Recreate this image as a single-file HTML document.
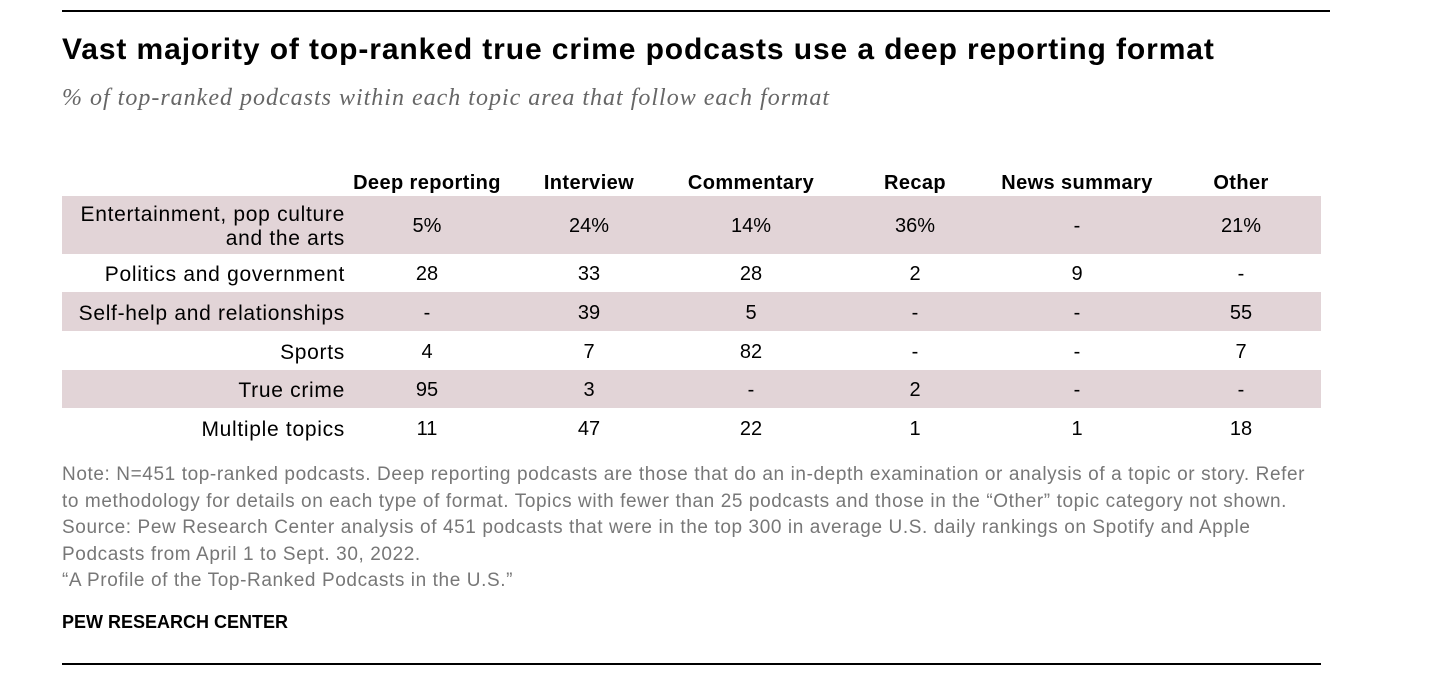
<!DOCTYPE html>
<html><head><meta charset="utf-8"><style>
body{margin:0;width:1448px;height:674px;background:#fff;font-family:"Liberation Sans",Arial,sans-serif;position:relative;overflow:hidden}
.rule{position:absolute;left:62px;height:2px;background:#000}
.title{position:absolute;left:62px;top:33px;font-size:30px;font-weight:bold;color:#000;letter-spacing:0.9px;white-space:nowrap}
.sub{position:absolute;left:62px;top:85px;font-family:"Liberation Serif",serif;font-style:italic;font-size:24px;color:#666;letter-spacing:1px;white-space:nowrap}
.hdr{position:absolute;top:172px;font-size:20px;font-weight:bold;transform:translateX(-50%);white-space:nowrap;letter-spacing:0.4px}
.row{position:absolute;left:62px;width:1259px}
.shade{background:#e2d4d7}
.lab{position:absolute;right:1103px;text-align:right;font-size:21px;line-height:24px;white-space:nowrap;color:#000;letter-spacing:0.7px}
.cell{position:absolute;font-size:20px;transform:translateX(-50%);color:#000}
.note{position:absolute;left:62px;top:462px;font-size:19px;line-height:26.5px;color:#777;letter-spacing:0.6px;white-space:nowrap}
.pew{position:absolute;left:62px;top:612px;font-size:18px;font-weight:bold;color:#000}
</style></head><body>
<div class="rule" style="top:10px;width:1268px"></div>
<div class="title">Vast majority of top-ranked true crime podcasts use a deep reporting format</div>
<div class="sub">% of top-ranked podcasts within each topic area that follow each format</div>
<div id="tbl"></div>
<div class="note">Note: N=451 top-ranked podcasts. Deep reporting podcasts are those that do an in-depth examination or analysis of a topic or story. Refer<br>to methodology for details on each type of format. Topics with fewer than 25 podcasts and those in the “Other” topic category not shown.<br>Source: Pew Research Center analysis of 451 podcasts that were in the top 300 in average U.S. daily rankings on Spotify and Apple<br>Podcasts from April 1 to Sept. 30, 2022.<br>“A Profile of the Top-Ranked Podcasts in the U.S.”</div>
<div class="pew">PEW RESEARCH CENTER</div>
<div class="rule" style="top:663px;width:1259px"></div>
<script>
const columns=["Deep reporting","Interview","Commentary","Recap","News summary","Other"];
const topics=["Entertainment, pop culture<br>and the arts","Politics and government","Self-help and relationships","Sports","True crime","Multiple topics"];
const row0=["5%","24%","14%","36%","-","21%"];
const row1=["28","33","28","2","9","-"];
const row2=["-","39","5","-","-","55"];
const row3=["4","7","82","-","-","7"];
const row4=["95","3","-","2","-","-"];
const row5=["11","47","22","1","1","18"];
const rows=[row0,row1,row2,row3,row4,row5];
const colX=[427,589,751,915,1077,1241];
const rowTop=[196,254,292,331,370,408];
const rowH=[58,38,39,39,38,39];
const t=document.getElementById('tbl');
columns.forEach((c,i)=>{const d=document.createElement('div');d.className='hdr';d.style.left=colX[i]+'px';d.textContent=c;


t.appendChild(d);});
rows.forEach((r,j)=>{
 const bg=document.createElement('div');bg.className='row'+(j%2==0?' shade':'');bg.style.top=rowTop[j]+'px';bg.style.height=rowH[j]+'px';
 
 
 t.appendChild(bg);
 const mid=rowTop[j]+rowH[j]/2+2;
 const l=document.createElement('div');l.className='lab';l.innerHTML=topics[j];
 const lines=topics[j].includes('<br>')?2:1;l.style.top=(mid-lines*12)+'px';
 
 
 t.appendChild(l);
 r.forEach((v,i)=>{const c=document.createElement('div');c.className='cell';c.style.left=colX[i]+'px';c.style.top=(mid-12)+'px';c.textContent=v;
 
 
 t.appendChild(c);});
});
</script>
</body></html>
